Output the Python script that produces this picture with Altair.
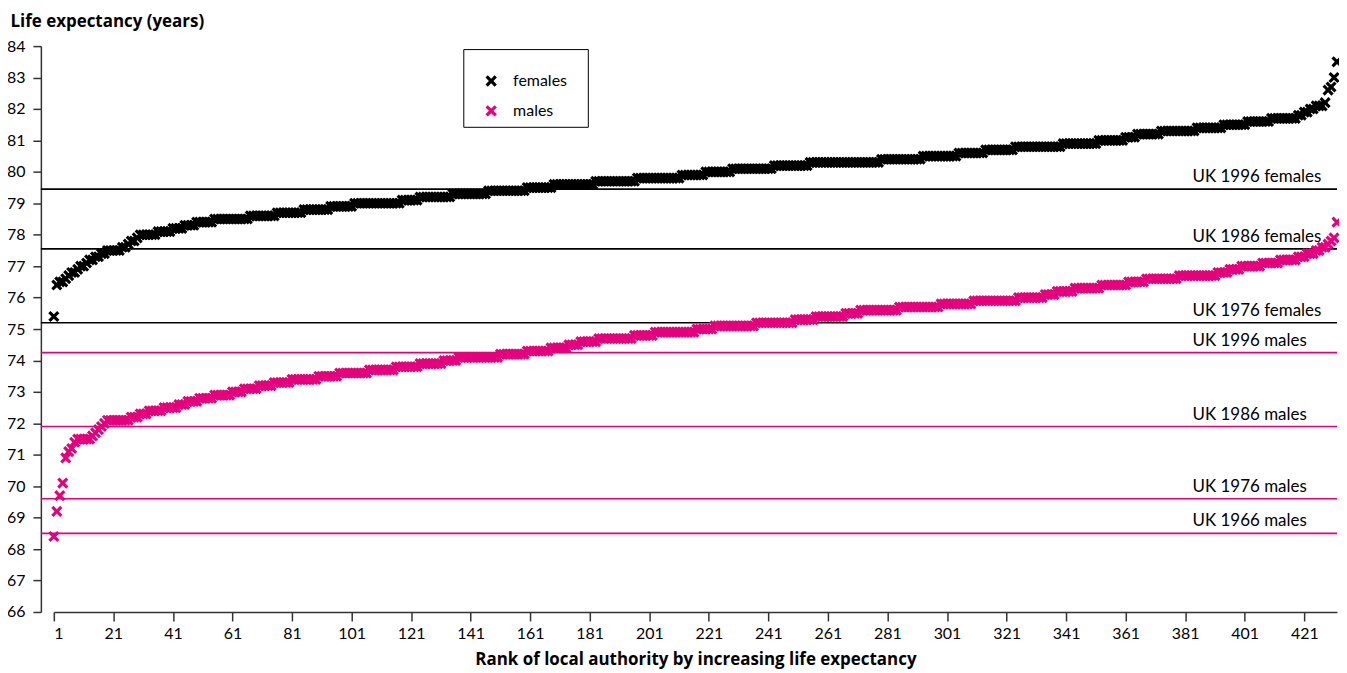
import altair as alt
import numpy as np
import pandas as pd

# ---- data (values in years, run-lengths in ranks) ----
female_values = [75.4, 76.4, 76.5, 76.6, 76.7, 76.8, 76.9, 77.0, 77.1, 77.2, 77.3, 77.4,
                 77.5, 77.6, 77.7, 77.8, 77.9, 78.0, 78.1, 78.2, 78.3, 78.4, 78.5, 78.6,
                 78.7, 78.8, 78.9, 79.0, 79.1, 79.2, 79.3, 79.4, 79.5, 79.6, 79.7, 79.8,
                 79.9, 80.0, 80.1, 80.2, 80.3, 80.4, 80.5, 80.6, 80.7, 80.8, 80.9, 81.0,
                 81.1, 81.2, 81.3, 81.4, 81.5, 81.6, 81.7, 81.8, 81.9, 82.0, 82.1, 82.2,
                 82.6, 82.7, 83.0, 83.5]
female_counts = [1, 1, 2, 1, 1, 2, 1, 2, 1, 2, 2, 2,
                 5, 2, 1, 2, 1, 6, 5, 4, 4, 6, 12, 9,
                 9, 9, 8, 16, 6, 11, 12, 13, 9, 14, 14, 15,
                 8, 9, 14, 12, 24, 14, 12, 9, 10, 16, 12, 9,
                 4, 8, 12, 9, 8, 8, 9, 2, 2, 2, 3, 1,
                 1, 1, 1, 1]

male_values = [68.4, 69.2, 69.7, 70.1, 70.9, 71.1, 71.2, 71.4, 71.5, 71.6, 71.7, 71.8,
               71.9, 72.0, 72.1, 72.2, 72.3, 72.4, 72.5, 72.6, 72.7, 72.8, 72.9, 73.0,
               73.1, 73.2, 73.3, 73.4, 73.5, 73.6, 73.7, 73.8, 73.9, 74.0, 74.1, 74.2,
               74.3, 74.4, 74.5, 74.6, 74.7, 74.8, 74.9, 75.0, 75.1, 75.2, 75.3, 75.4,
               75.5, 75.6, 75.7, 75.8, 75.9, 76.0, 76.1, 76.2, 76.3, 76.4, 76.5, 76.6,
               76.7, 76.8, 76.9, 77.0, 77.1, 77.2, 77.3, 77.4, 77.5, 77.6, 77.7, 77.8,
               77.9, 78.4]
male_counts = [1, 1, 1, 1, 1, 1, 1, 1, 5, 1, 1, 1,
               1, 1, 8, 3, 3, 5, 5, 3, 4, 5, 6, 4,
               5, 5, 6, 9, 7, 10, 9, 8, 8, 5, 14, 9,
               8, 6, 4, 6, 12, 7, 14, 6, 14, 13, 7, 10,
               5, 13, 14, 11, 15, 9, 4, 6, 9, 9, 6, 11,
               13, 4, 4, 7, 6, 6, 3, 3, 2, 2, 1, 1,
               1, 1]

series_names = ["females", "males"]
series_colors = ["#000000", "#E5007D"]

ref_labels = ["UK 1996 females", "UK 1986 females", "UK 1976 females",
              "UK 1996 males", "UK 1986 males", "UK 1976 males", "UK 1966 males"]
ref_values = [79.45, 77.55, 75.2, 74.25, 71.9, 69.6, 68.5]
ref_sex = ["females", "females", "females", "males", "males", "males", "males"]

x_ticks = list(range(1, 422, 20))
y_ticks = list(range(66, 85))

# ---- tables ----
f = np.repeat(female_values, female_counts)
m = np.repeat(male_values, male_counts)
df = pd.DataFrame({
    "rank": list(range(1, len(f) + 1)) + list(range(1, len(m) + 1)),
    "value": list(f) + list(m),
    "sex": ["females"] * len(f) + ["males"] * len(m),
})
ref_df = pd.DataFrame({"label": ref_labels, "value": ref_values, "sex": ref_sex})

# ---- styling ----
FONT = "Lato"
TFONT = "Open Sans"
W, H = 1288, 568
XSHAPE = "M-1,-0.6L-0.6,-1L0,-0.4L0.6,-1L1,-0.6L0.4,0L1,0.6L0.6,1L0,0.4L-0.6,1L-1,0.6L-0.4,0Z"
PAD_TAIL = "\u00a0" * 3 + "\u200b"

x = alt.X(
    "rank:Q",
    scale=alt.Scale(domain=[1, len(f)], nice=False, zero=False),
    axis=alt.Axis(
        values=x_ticks, format="d", grid=False,
        title="Rank of local authority by increasing life expectancy",
        titleFont=TFONT, titleFontSize=17, titleFontWeight="bold",
        titleBaseline="alphabetic", titleY=53,
        tickSize=9, labelPadding=5, labelFontSize=16,
    ),
)
y = alt.Y(
    "value:Q",
    scale=alt.Scale(domain=[66, 84], nice=False, zero=False),
    axis=alt.Axis(
        values=y_ticks, format="d", grid=False, offset=13,
        title="Life expectancy (years)", titleAngle=0, titleAlign="left",
        titleBaseline="alphabetic", titleX=-31, titleY=-20,
        titleFont=TFONT, titleFontSize=17, titleFontWeight="bold",
        tickSize=8, labelPadding=8, labelFontSize=16,
    ),
)

rules_f = alt.Chart(ref_df).transform_filter("datum.sex == 'females'").mark_rule(
    color="#000000", strokeWidth=1.6
).encode(y=y, x=alt.value(-13), x2=alt.value(W))

rules_m = alt.Chart(ref_df).transform_filter("datum.sex == 'males'").mark_rule(
    color="#E5007D", strokeWidth=1.6
).encode(y=y, x=alt.value(-13), x2=alt.value(W))

labels = alt.Chart(ref_df).mark_text(
    align="left", baseline="alphabetic", dy=-7, fontSize=17, font=FONT, color="#000000"
).encode(y=y, x=alt.value(1143), text="label:N")

points = alt.Chart(df).mark_point(
    shape=XSHAPE, filled=True, size=125, opacity=1, strokeWidth=0
).encode(
    x=x, y=y,
    color=alt.Color(
        "sex:N",
        scale=alt.Scale(domain=series_names, range=series_colors),
        legend=alt.Legend(
            title=" ", titleFontSize=10, titlePadding=6,
            orient="none", legendX=411, legendY=3,
            symbolType=XSHAPE, symbolSize=130, symbolStrokeWidth=0,
            symbolOffset=12, labelOffset=14, labelFontSize=16, labelFont=FONT,
            labelExpr="datum.label + '" + PAD_TAIL + "'",
            rowPadding=14, padding=8,
            strokeColor="#000000", fillColor="#ffffff",
        ),
    ),
)

chart = alt.layer(rules_f, rules_m, labels, points).properties(
    width=W, height=H,
    padding={"left": 46, "top": 37, "right": 2, "bottom": 60},
    autosize=alt.AutoSizeParams(type="none"),
).configure_view(stroke=None).configure_axis(
    labelFont=FONT, titleFont=TFONT, labelColor="#000000", titleColor="#000000",
    domainColor="#333333", tickColor="#333333", domainWidth=1.5, tickWidth=1.5,
).configure_legend(labelColor="#000000", titleFont=FONT)

chart.save("out.html", embed_options={"renderer": "svg", "actions": False})
